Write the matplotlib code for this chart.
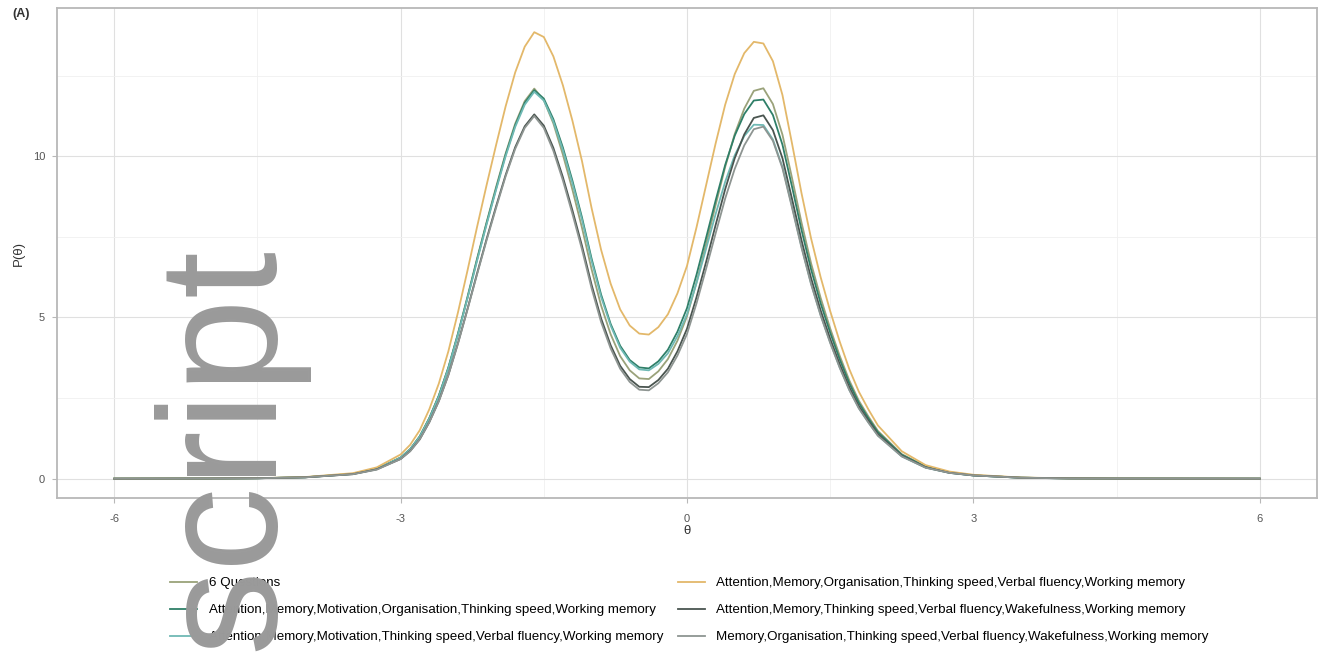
import matplotlib
matplotlib.use("Agg")
import matplotlib.pyplot as plt

plt.rcParams['font.family'] = ['Liberation Sans', 'DejaVu Sans']
plt.rcParams['axes.unicode_minus'] = False

# theta grid the curves were read at
theta = [-6, -5, -4.5, -4, -3.5, -3.25,
         -3.0, -2.9, -2.8, -2.7, -2.6, -2.5, -2.4, -2.3, -2.2, -2.1,
         -2.0, -1.9, -1.8, -1.7, -1.6, -1.5, -1.4, -1.3, -1.2, -1.1,
         -1.0, -0.9, -0.8, -0.7, -0.6, -0.5, -0.4, -0.3, -0.2, -0.1,
         0.0, 0.1, 0.2, 0.3, 0.4, 0.5, 0.6, 0.7, 0.8, 0.9,
         1.0, 1.1, 1.2, 1.3, 1.4, 1.5, 1.6, 1.7, 1.8, 1.9,
         2.0, 2.25, 2.5, 2.75, 3.0, 3.5, 4, 4.5, 5, 6]

p_six_questions = [0.0, 0.004, 0.013, 0.044, 0.15, 0.31,
                   0.66, 0.92, 1.31, 1.88, 2.58, 3.45, 4.5, 5.64, 6.82, 7.95,
                   9.05, 10.09, 11.01, 11.71, 12.1, 11.74, 11.02, 10.05, 8.96, 7.78,
                   6.5, 5.37, 4.48, 3.8, 3.36, 3.11, 3.09, 3.33, 3.71, 4.28,
                   5.04, 6.09, 7.27, 8.49, 9.67, 10.69, 11.48, 12.03, 12.11, 11.62,
                   10.67, 9.33, 7.94, 6.68, 5.61, 4.66, 3.81, 3.05, 2.42, 1.93,
                   1.48, 0.76, 0.38, 0.2, 0.11, 0.031, 0.009, 0.004, 0.002, 0.0]

p_att_mem_mot_org = [0.0, 0.004, 0.013, 0.044, 0.148, 0.3,
                     0.65, 0.91, 1.31, 1.87, 2.57, 3.44, 4.48, 5.61, 6.79, 7.92,
                     9.0, 10.05, 10.96, 11.66, 12.05, 11.79, 11.15, 10.27, 9.24, 8.1,
                     6.83, 5.71, 4.8, 4.12, 3.68, 3.45, 3.42, 3.64, 4.0, 4.56,
                     5.29, 6.33, 7.47, 8.63, 9.73, 10.64, 11.31, 11.73, 11.76, 11.28,
                     10.36, 9.06, 7.71, 6.49, 5.44, 4.53, 3.7, 2.96, 2.35, 1.87,
                     1.44, 0.74, 0.37, 0.19, 0.1, 0.03, 0.009, 0.003, 0.002, 0.0]

p_att_mem_mot_vf = [0.0, 0.004, 0.013, 0.043, 0.147, 0.3,
                    0.65, 0.91, 1.3, 1.86, 2.55, 3.42, 4.46, 5.59, 6.75, 7.88,
                    8.96, 10.0, 10.91, 11.6, 12.0, 11.73, 11.08, 10.19, 9.16, 8.03,
                    6.76, 5.64, 4.75, 4.06, 3.63, 3.39, 3.36, 3.56, 3.89, 4.42,
                    5.1, 6.07, 7.13, 8.21, 9.21, 10.03, 10.63, 10.98, 10.97, 10.52,
                    9.67, 8.45, 7.19, 6.05, 5.08, 4.23, 3.45, 2.76, 2.19, 1.75,
                    1.34, 0.69, 0.34, 0.18, 0.1, 0.028, 0.008, 0.003, 0.002, 0.0]

p_att_mem_org_vf = [0.0, 0.005, 0.015, 0.05, 0.17, 0.35,
                    0.75, 1.05, 1.5, 2.15, 2.95, 3.95, 5.15, 6.45, 7.8, 9.1,
                    10.35, 11.55, 12.6, 13.4, 13.85, 13.7, 13.1, 12.2, 11.1, 9.85,
                    8.4, 7.1, 6.05, 5.25, 4.75, 4.5, 4.47, 4.7, 5.1, 5.75,
                    6.6, 7.8, 9.1, 10.4, 11.6, 12.55, 13.2, 13.55, 13.5, 12.95,
                    11.9, 10.4, 8.85, 7.45, 6.25, 5.2, 4.25, 3.4, 2.7, 2.15,
                    1.65, 0.85, 0.42, 0.22, 0.12, 0.035, 0.01, 0.004, 0.002, 0.0]

p_att_mem_vf_wake = [0.0, 0.004, 0.012, 0.041, 0.139, 0.29,
                     0.61, 0.86, 1.22, 1.75, 2.41, 3.22, 4.2, 5.26, 6.36, 7.43,
                     8.45, 9.42, 10.28, 10.93, 11.3, 10.95, 10.26, 9.35, 8.32, 7.22,
                     6.02, 4.97, 4.14, 3.5, 3.09, 2.85, 2.84, 3.06, 3.41, 3.95,
                     4.65, 5.63, 6.72, 7.87, 8.98, 9.94, 10.68, 11.19, 11.27, 10.81,
                     9.94, 8.68, 7.39, 6.22, 5.22, 4.34, 3.55, 2.84, 2.25, 1.8,
                     1.38, 0.71, 0.35, 0.18, 0.1, 0.029, 0.008, 0.003, 0.002, 0.0]

p_mem_org_vf_wake = [0.0, 0.004, 0.012, 0.041, 0.138, 0.28,
                     0.61, 0.85, 1.22, 1.75, 2.4, 3.21, 4.18, 5.24, 6.33, 7.39,
                     8.4, 9.38, 10.23, 10.88, 11.25, 10.88, 10.17, 9.25, 8.21, 7.11,
                     5.91, 4.86, 4.04, 3.41, 3.0, 2.76, 2.74, 2.96, 3.3, 3.82,
                     4.49, 5.44, 6.51, 7.61, 8.69, 9.61, 10.34, 10.84, 10.92, 10.48,
                     9.63, 8.41, 7.16, 6.03, 5.06, 4.21, 3.44, 2.75, 2.18, 1.74,
                     1.33, 0.69, 0.34, 0.18, 0.1, 0.028, 0.008, 0.003, 0.002, 0.0]

labels = ["6 Questions",
          "Attention,Memory,Motivation,Organisation,Thinking speed,Working memory",
          "Attention,Memory,Motivation,Thinking speed,Verbal fluency,Working memory",
          "Attention,Memory,Organisation,Thinking speed,Verbal fluency,Working memory",
          "Attention,Memory,Thinking speed,Verbal fluency,Wakefulness,Working memory",
          "Memory,Organisation,Thinking speed,Verbal fluency,Wakefulness,Working memory"]
series = [p_six_questions, p_att_mem_mot_org, p_att_mem_mot_vf,
          p_att_mem_org_vf, p_att_mem_vf_wake, p_mem_org_vf_wake]
colors = ['#9aa27a', '#2f7f68', '#6fb9b4', '#e3b86a', '#4a5550', '#8e9592']

x_ticks = [-6, -3, 0, 3, 6]
y_ticks = [0, 5, 10]

W, H = 1323, 654
fig = plt.figure(figsize=(W / 100, H / 100), dpi=100)
ax = fig.add_axes([57 / W, 1 - 498 / H, 1260 / W, 490 / H])

handles = []
for values, label, color in zip(series, labels, colors):
    line, = ax.plot(theta, values, color=color, lw=1.3, label=label,
                    solid_joinstyle='round')
    handles.append(line)

ax.set_xlim(-6.6, 6.6)
ax.set_ylim(-0.6, 14.6)
ax.set_xticks(x_ticks)
ax.set_yticks(y_ticks)
ax.set_xticks([-4.5, -1.5, 1.5, 4.5], minor=True)
ax.set_yticks([2.5, 7.5, 12.5], minor=True)
ax.grid(which='major', color='#e0e0e0', lw=0.8)
ax.grid(which='minor', color='#f0f0f0', lw=0.6)
ax.set_axisbelow(True)
for spine in ax.spines.values():
    spine.set_color('#b8b8b8')
    spine.set_linewidth(1.3)
ax.tick_params(which='major', length=3.5, width=0.8, color='#b8b8b8',
               labelsize=8, labelcolor='#555555')
ax.tick_params(axis='x', pad=8)
ax.tick_params(axis='y', pad=5)
ax.tick_params(which='minor', length=0)

ax.set_xlabel('θ', fontsize=9.5, color='#333333', labelpad=1)
ax.set_ylabel('P(θ)', fontsize=9.5, color='#333333', labelpad=6)
fig.text(12 / W, 1 - 14 / H, '(A)', fontsize=9, fontweight='bold',
         color='#333333', va='center')

fig.legend(handles, labels, ncol=2, loc='upper left',
           bbox_to_anchor=(158 / W, 1 - 565 / H), frameon=False,
           fontsize=9.6, handlelength=2.0, handletextpad=0.9,
           labelspacing=1.1, columnspacing=1.1)

fig.text(272 / W, 3 / H, 'script', rotation=90, rotation_mode='anchor',
         ha='left', va='baseline', fontsize=122, color='#9a9a9a', zorder=10)

fig.savefig('out.png', dpi=100)
